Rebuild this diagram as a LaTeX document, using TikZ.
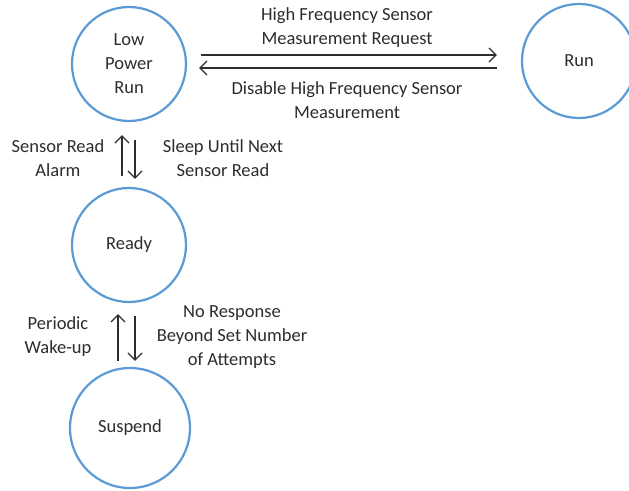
\documentclass[tikz,border=0pt]{standalone}
\usepackage{fontspec}
\setmainfont{Carlito}
\usepackage{tikz}
\usetikzlibrary{arrows.meta}

\definecolor{ringblue}{RGB}{91,155,213}
\definecolor{inkgray}{RGB}{45,45,45}

\tikzset{
  state/.style={circle,draw=ringblue,line width=2.2pt,minimum size=114pt,
    inner sep=0pt,align=center,text=inkgray,font=\fontsize{18.5}{24}\selectfont},
  flow/.style={line width=1.3pt,draw=inkgray,
    -{Straight Barb[length=7pt,width=14pt,line width=1.3pt]}},
  lbl/.style={align=center,text=inkgray,font=\fontsize{18.5}{24}\selectfont}
}

\begin{document}
\begin{tikzpicture}[x=1pt,y=-1pt]
 \clip (0,0) rectangle (629,490);
 \fill[white] (0,0) rectangle (629,490);

 % the four states
 \node[state] (lpr) at (129,64) {Low\\Power\\Run};
 \node[state] (run) at (579,61) {Run};
 \node[state] (ready) at (129,245) {Ready};
 \node[state,minimum size=120pt] (susp) at (130,428) {Suspend};

 % run <-> low power run
 \draw[flow,shorten <=14pt,shorten >=24pt] ([yshift=9pt]lpr.east) -- ([yshift=6pt]run.west);
 \draw[flow,shorten <=24pt,shorten >=12pt] ([yshift=-7pt]run.west) -- ([yshift=-4pt]lpr.east);

 % low power run <-> ready
 \draw[flow,shorten <=11pt,shorten >=13pt] ([xshift=-7pt]ready.north) -- ([xshift=-7pt]lpr.south);
 \draw[flow,shorten <=18pt,shorten >=8pt] ([xshift=6pt]lpr.south) -- ([xshift=6pt]ready.north);

 % ready <-> suspend
 \draw[flow,shorten <=6pt,shorten >=11pt] ([xshift=-12pt]susp.north) -- ([xshift=-11pt]ready.south);
 \draw[flow,shorten <=13pt,shorten >=6pt] ([xshift=6pt]ready.south) -- ([xshift=5pt]susp.north);

 \node[lbl] (reqtxt) at (347,28) {High Frequency Sensor\\Measurement Request};
 \node[lbl] (distxt) at (347,100) {Disable High Frequency Sensor\\Measurement};
 \node[lbl] (alarmtxt) at (58,158) {Sensor Read\\Alarm};
 \node[lbl] (sleeptxt) at (223,158) {Sleep Until Next\\Sensor Read};
 \node[lbl] (waketxt) at (58,337) {Periodic\\Wake-up};
 \node[lbl] (noresp) at (232,337) {No Response\\Beyond Set Number\\of Attempts};
\end{tikzpicture}
\end{document}
